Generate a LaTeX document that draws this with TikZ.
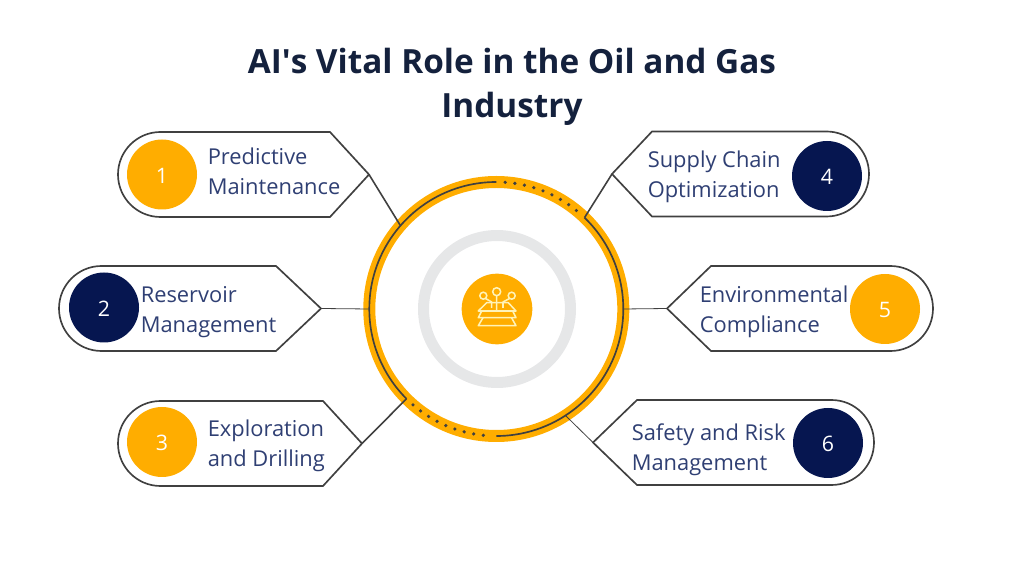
\documentclass[tikz,border=0pt]{standalone}
\usepackage{fontspec}
\setmainfont{Open Sans}
\usepackage{xcolor}
\usetikzlibrary{positioning,calc}
\definecolor{amberc}{HTML}{FFAD00}
\definecolor{navyc}{HTML}{061650}
\definecolor{titlec}{HTML}{14213D}
\definecolor{labelc}{HTML}{2F3F73}
\definecolor{linec}{HTML}{404040}
\definecolor{greyc}{HTML}{E6E7E8}
\definecolor{iconc}{HTML}{FFF3B8}
\tikzset{
 tagline/.style={draw=linec, line width=1.25pt, line join=miter},
 linkthick/.style={draw=linec, line width=1.2pt},
 linkthin/.style={draw=linec, line width=0.6pt},
 numdot/.style={circle, minimum size=52.5pt, inner sep=0pt, text=white, text height=13pt, font=\fontsize{16}{18}\selectfont},
 taglabel/.style={anchor=west, align=left, inner sep=0pt, text=labelc, font=\fontsize{16.4}{22.5}\selectfont},
 ringarc/.style={draw=linec, line width=1.25pt},
 ringdots/.style={draw=linec, line width=2.7pt, line cap=round, dash pattern=on 0pt off 7.3pt},
 iconline/.style={draw=iconc, line width=1.15pt, line join=round}
}
\begin{document}
\begin{tikzpicture}[x=0.75pt, y=0.75pt]
 \useasboundingbox (0,0) rectangle (1024,564);
 \node[font=\fontsize{25}{33}\selectfont\bfseries, text=titlec, align=center] (title) at (512,477) {AI\textquotesingle s Vital Role in the Oil and Gas\\Industry};
 \node[circle, draw=amberc, line width=9pt, minimum size=190.5pt, inner sep=0pt, outer sep=0pt] (ring) at (496.3,255) {};
 \node[circle, fill=amberc, minimum size=53pt, inner sep=0pt] (hub) at (497,255) {};
 \draw[greyc, line width=8.25pt] (hub.center) circle[radius=73.5];
 \draw[ringarc] (ring.90) arc[start angle=90, end angle=225, radius=127];
 \draw[ringarc] (ring.46) arc[start angle=46, end angle=-90, radius=127];
 \draw[ringdots] (ring.86) arc[start angle=86, end angle=50, radius=127];
 \draw[ringdots] (ring.229) arc[start angle=229, end angle=265, radius=127];
 % pad icon
 \draw[iconline] (486.7,261.3)--(508.3,261.3)--(516,253)--(478.3,253)--cycle;
 \draw[iconline] (481.7,253)--(478.3,246.3)--(516,246.3)--(512.7,253);
 \draw[iconline] (483,246.3)--(478.3,238.3)--(516,238.3)--(511.5,246.3);
 \draw[iconline] (483.3,268.3) circle[radius=3.5] (496.7,272.3) circle[radius=4] (511.7,268.3) circle[radius=3.5];
 \draw[iconline] (485.5,265.5)--(491.7,262)--(491.7,256) (496.7,268.3)--(496.7,254) (509.5,265.5)--(503,262)--(503,256);
 % left tags
 \foreach \n/\lx/\by/\shx/\tipx/\cx/\cy/\col/\tx/\ty/\ang/\lnk/\txt in {
   1/118/347/330/369/162/389.5/amberc/207.5/392.5/139/linkthick/{Predictive\\Maintenance},
   2/59/213/276/321/104/256.5/navyc/140.5/252/180/linkthin/{Reservoir\\Management},
   3/118/78/323/362/162/122/amberc/207.5/118.5/225/linkthick/{Exploration\\and Drilling}}{
   \coordinate (tip\n) at (\tipx,\by+42.5);
   \draw[tagline] (\lx+42.5,\by+85)--(\shx,\by+85)--(tip\n)--(\shx,\by)--(\lx+42.5,\by)
     arc[start angle=270, end angle=90, radius=42.5]--cycle;
   \node[numdot, fill=\col] (c\n) at (\cx,\cy) {\n};
   \node[taglabel] (t\n) at (\tx,\ty) {\txt};
   \draw[\lnk] (tip\n)--(ring.\ang);}
 % right tags
 \foreach \n/\rx/\by/\shx/\tipx/\cx/\cy/\col/\tx/\ty/\ang/\lnk/\txt in {
   4/869/347.5/652/612/827/388/navyc/647.5/387/46/linkthick/{Supply Chain\\Optimization},
   5/933/213/711/667/885/255/amberc/699.5/252/0/linkthin/{Environmental\\Compliance},
   6/874/79/637/593/828/121/navyc/631.5/114.5/303/linkthin/{Safety and Risk\\Management}}{
   \coordinate (tip\n) at (\tipx,\by+42.5);
   \draw[tagline] (\rx-42.5,\by+85)--(\shx,\by+85)--(tip\n)--(\shx,\by)--(\rx-42.5,\by)
     arc[start angle=-90, end angle=90, radius=42.5]--cycle;
   \node[numdot, fill=\col] (c\n) at (\cx,\cy) {\n};
   \node[taglabel] (t\n) at (\tx,\ty) {\txt};
   \draw[\lnk] (tip\n)--(ring.\ang);}
\end{tikzpicture}
\end{document}
